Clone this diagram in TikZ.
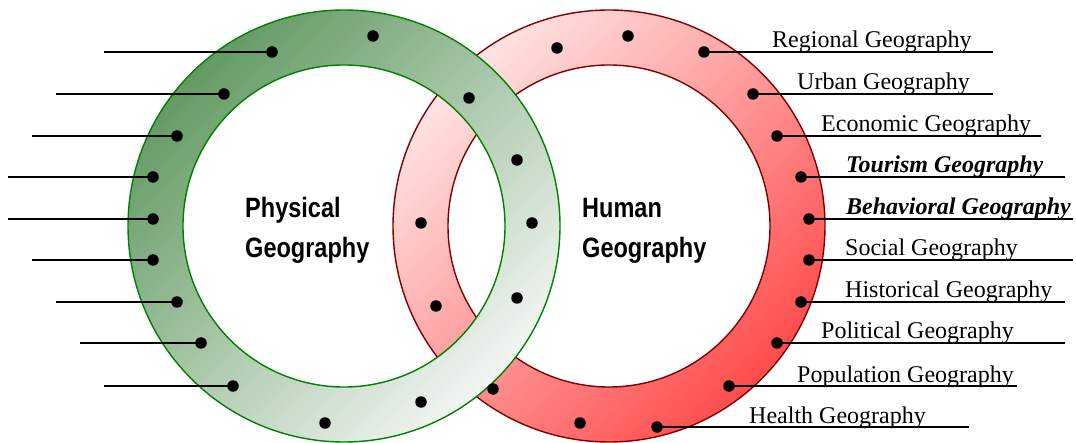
\documentclass[tikz,border=0pt]{standalone}
\usepackage{fontspec}
\setmainfont{Liberation Serif}
\newfontfamily\headsf[FakeStretch=0.84]{Liberation Sans}
\definecolor{gdark}{RGB}{62,130,62}
\definecolor{glight}{RGB}{246,248,246}
\definecolor{rlight}{RGB}{255,250,250}
\definecolor{rdark}{RGB}{255,42,42}
\definecolor{gedge}{RGB}{0,128,0}
\definecolor{redge}{RGB}{128,0,0}
\pgfdeclarehorizontalshading{gring}{100bp}{color(0bp)=(gdark); color(12bp)=(gdark); color(76bp)=(glight); color(100bp)=(glight)}
\pgfdeclarehorizontalshading{rring}{100bp}{color(0bp)=(rlight); color(18bp)=(rlight); color(86bp)=(rdark); color(100bp)=(rdark)}
\begin{document}
\begin{tikzpicture}[x=1pt,y=-1pt,
  dotn/.style={circle,fill=black,inner sep=0pt,minimum size=11.5pt},
  lead/.style={line width=1.8pt},
  lab/.style={anchor=base west,inner sep=0pt,font=\fontsize{24}{28}\selectfont},
  blab/.style={anchor=base west,inner sep=0pt,font=\fontsize{24}{28}\selectfont\bfseries\itshape},
  head/.style={anchor=base west,inner sep=0pt,font=\headsf\bfseries\fontsize{28}{40}\selectfont},
  ringedge/.style={line width=1.4pt}]
\useasboundingbox (0,0) rectangle (1076,443);
% red ring (below)
\coordinate (rc) at (609,226);
\shade[even odd rule, shading=rring, shading angle=-45] (rc) circle (216pt) (rc) circle (161pt);
\draw[ringedge, redge] (rc) circle (216pt) (rc) circle (161pt);
% green ring (on top)
\coordinate (gc) at (344,226);
\shade[even odd rule, shading=gring, shading angle=-45] (gc) circle (216pt) (gc) circle (161pt);
\draw[ringedge, gedge] (gc) circle (216pt) (gc) circle (161pt);
% center titles
\node[head] (ph1) at (245,218) {Physical};
\node[head] (ph2) at (245,258) {Geography};
\node[head] (hu1) at (582,218) {Human};
\node[head] (hu2) at (582,258) {Geography};
% green ring dots with leaders
\coordinate (gl1) at (104,52);
\coordinate (gl2) at (56,94);
\coordinate (gl3) at (32,136);
\coordinate (gl4) at (8,177);
\coordinate (gl5) at (8,219);
\coordinate (gl6) at (32,260);
\coordinate (gl7) at (56,302);
\coordinate (gl8) at (80,343);
\coordinate (gl9) at (104,386);
\node[dotn] (g1) at (272,52) {};
\node[dotn] (g2) at (224,94) {};
\node[dotn] (g3) at (177,136) {};
\node[dotn] (g4) at (153,177) {};
\node[dotn] (g5) at (153,219) {};
\node[dotn] (g6) at (153,260) {};
\node[dotn] (g7) at (177,302) {};
\node[dotn] (g8) at (201,343) {};
\node[dotn] (g9) at (233,386) {};
\foreach \i in {1,...,9} {\draw[lead] (gl\i) -- (g\i.center);}
% other green dots
\node[dotn] (g10) at (373,36) {};
\node[dotn] (g11) at (469,98) {};
\node[dotn] (g12) at (517,160) {};
\node[dotn] (g13) at (532,223) {};
\node[dotn] (g14) at (517,298) {};
\node[dotn] (g15) at (421,402) {};
\node[dotn] (g16) at (325,423) {};
% red ring dots
\node[dotn] (r1) at (557,48) {};
\node[dotn] (r2) at (628,36) {};
\node[dotn] (r3) at (421,223) {};
\node[dotn] (r4) at (436,306) {};
\node[dotn] (r5) at (493,389) {};
\node[dotn] (r6) at (580,423) {};
\node[dotn] (h1) at (704,52) {};
\node[dotn] (h2) at (753,94) {};
\node[dotn] (h3) at (777,136) {};
\node[dotn] (h4) at (801,177) {};
\node[dotn] (h5) at (809,219) {};
\node[dotn] (h6) at (809,260) {};
\node[dotn] (h7) at (801,302) {};
\node[dotn] (h8) at (777,343) {};
\node[dotn] (h9) at (729,386) {};
\node[dotn] (h10) at (657,427) {};
\coordinate (hr1) at (993,52);
\coordinate (hr2) at (993,94);
\coordinate (hr3) at (1041,136);
\coordinate (hr4) at (1065,177);
\coordinate (hr5) at (1073,219);
\coordinate (hr6) at (1073,260);
\coordinate (hr7) at (1065,302);
\coordinate (hr8) at (1065,343);
\coordinate (hr9) at (1017,386);
\coordinate (hr10) at (969,427);
\foreach \i in {1,...,10} {\draw[lead] (h\i.center) -- (hr\i);}
% labels
\node[lab] (t1) at (772,48) {Regional Geography};
\node[lab] (t2) at (797,90) {Urban Geography};
\node[lab] (t3) at (821,132) {Economic Geography};
\node[blab] (t4) at (846,173) {Tourism Geography};
\node[blab] (t5) at (846,215) {Behavioral Geography};
\node[lab] (t6) at (845,256) {Social Geography};
\node[lab] (t7) at (845,298) {Historical Geography};
\node[lab] (t8) at (821,339) {Political Geography};
\node[lab] (t9) at (797,382) {Population Geography};
\node[lab] (t10) at (749,423) {Health Geography};
\end{tikzpicture}
\end{document}
